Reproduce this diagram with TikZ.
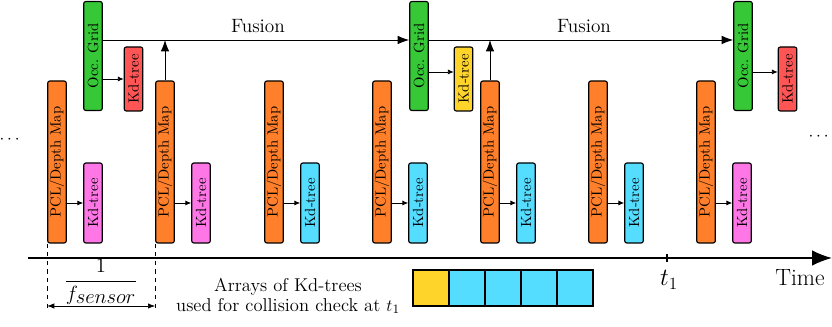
\documentclass[tikz,border=0pt]{standalone}
\usepackage{amsmath}
\usepackage{graphicx}
\usepackage{tikz}
\usetikzlibrary{arrows.meta, calc}

\definecolor{pclorange}{RGB}{255,127,42}
\definecolor{occgreen}{RGB}{55,200,55}
\definecolor{kdpink}{RGB}{255,119,230}
\definecolor{kdcyan}{RGB}{85,221,255}
\definecolor{kdred}{RGB}{255,85,85}
\definecolor{kdyellow}{RGB}{255,212,42}

\begin{document}
\begin{tikzpicture}[x=0.7pt, y=0.7pt, >=Stealth,
    box/.style={draw, line width=0.8pt, rounded corners=1.5pt, minimum width=13pt, inner sep=0pt, font=\fontsize{10.3}{12}\selectfont},
    flow/.style={-{Latex[length=8pt, width=6pt]}, line width=0.6pt},
    small/.style={-{Latex[length=4pt, width=3.5pt]}, line width=0.5pt}]

    \useasboundingbox (0,0) rectangle (832,327);

    % Sensor frames (PCL + Kd-tree)
    \foreach \i/\x/\c in {1/57/kdpink, 2/165/kdpink, 3/274/kdcyan, 4/382/kdcyan, 5/490/kdcyan, 6/598/kdcyan, 7/706/kdpink} {
      \node[box, fill=pclorange, minimum height=113.4pt] (pcl\i) at (\x,165) {\rotatebox{90}{PCL/Depth Map}};
      \node[box, fill=\c, minimum height=56pt] (kd\i) at (\x+36,124) {\rotatebox{90}{Kd-tree}};
      \draw[small] (kd\i.west -| pcl\i.east) -- (kd\i.west);
    }

    % Occupancy grids
    \foreach \i/\x/\d/\c/\s in {1/93/40.5/kdred/0, 2/419/44.5/kdyellow/7, 3/743/44.5/kdred/7} {
      \node[box, fill=occgreen, minimum height=76.3pt] (occ\i) at (\x,271) {\rotatebox{90}{Occ. Grid}};
      \node[box, fill=\c, minimum height=44.8pt] (kdo\i) at (\x+\d,248) {\rotatebox{90}{Kd-tree}};
      \draw[small] ($(kdo\i.west -| occ\i.east)+(0,\s)$) -- ($(kdo\i.west)+(0,\s)$);
    }

    % Fusion path
    \coordinate (fus) at (0,287);
    \draw[flow] (occ1.east |- fus) -- (occ2.west |- fus);
    \draw[flow] (occ2.east |- fus) -- (occ3.west |- fus);
    \draw[flow] (pcl2.north) -- (pcl2.north |- fus);
    \draw[flow] (pcl5.north) -- (pcl5.north |- fus);
    \node[font=\fontsize{13.5}{16}\selectfont] (fus1) at (258,301) {Fusion};
    \node[font=\fontsize{13.5}{16}\selectfont] (fus2) at (584,301) {Fusion};

    % Dots
    \node[font=\fontsize{12.5}{15}\selectfont, inner sep=0pt] (dotsl) at (11,187) {$\cdots$};
    \node[font=\fontsize{12.5}{15}\selectfont, inner sep=0pt] (dotsr) at (820,190) {$\cdots$};

    % Time axis
    \coordinate (tstart) at (28,69);
    \coordinate (tend) at (832,69);
    \draw[-{Latex[length=14pt, width=11pt]}, line width=1.2pt] (tstart) -- (tend);
    \coordinate (tone) at (667,69);
    \draw[line width=1pt] ($(tone)+(0,-4)$) -- ($(tone)+(0,4)$);
    \node[font=\fontsize{17}{20}\selectfont] (tlab) at (669,47) {$t_1$};
    \node[font=\fontsize{16.5}{19}\selectfont] (time) at (800,49) {Time};

    % Sensor period
    \coordinate (dimlow) at (0,15);
    \coordinate (dimarr) at (0,21);
    \draw[dashed] (pcl1.south west) -- (pcl1.south west |- dimlow);
    \draw[dashed] (pcl2.south west) -- (pcl2.south west |- dimlow);
    \draw[{Latex[length=5pt]}-{Latex[length=5pt]}, line width=0.5pt] (pcl1.south west |- dimarr) -- (pcl2.south west |- dimarr);
    \node[font=\fontsize{15}{18}\selectfont] (period) at (101,45) {$\dfrac{1}{f_{\textstyle sensor}}$};

    % Kd-tree array
    \foreach \i/\c in {0/kdyellow, 1/kdcyan, 2/kdcyan, 3/kdcyan, 4/kdcyan}
      \node[draw, line width=0.8pt, fill=\c, minimum size=25.2pt, inner sep=0pt] (arr\i) at (431+36*\i,39) {};
    \node[font=\fontsize{13}{14}\selectfont, align=center] (arrtxt) at (288,31) {Arrays of Kd-trees\\used for collision check at $t_1$};

\end{tikzpicture}
\end{document}
